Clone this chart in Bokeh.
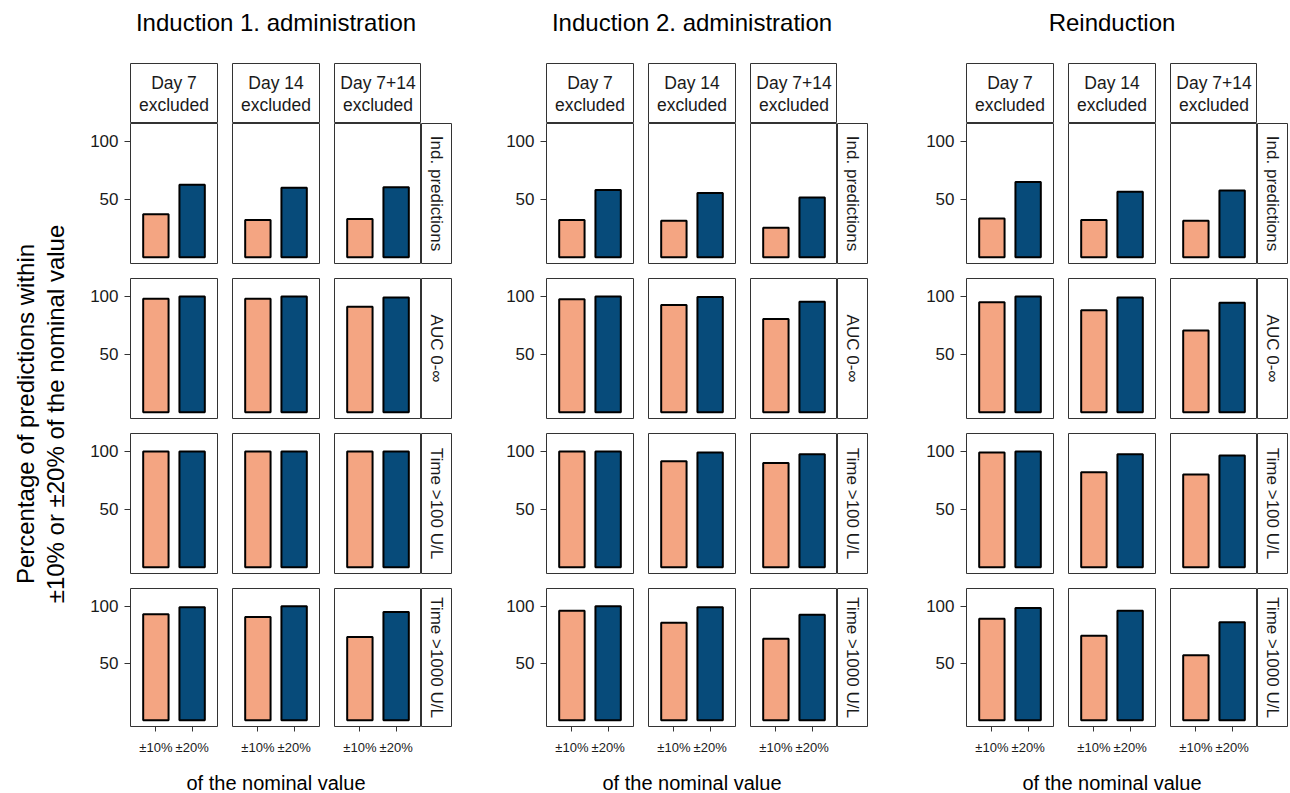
import math
from bokeh.plotting import figure
from bokeh.layouts import row, column
from bokeh.models import Range1d, FactorRange, FixedTicker, ColumnDataSource, Spacer
from bokeh.embed import file_html
from bokeh.resources import INLINE
from bokeh.core.properties import value

FONT = "Liberation Sans"

# ---------------- data ----------------
groups = ["Induction 1. administration", "Induction 2. administration", "Reinduction"]
exclusions = ["Day 7\nexcluded", "Day 14\nexcluded", "Day 7+14\nexcluded"]
metrics = ["Ind. predictions", "AUC 0-\u221e", "Time >100 U/L", "Time >1000 U/L"]
levels = ["\u00b110%", "\u00b120%"]
ylab_lines = ["Percentage of predictions within", "\u00b110% or \u00b120% of the nominal value"]
xlab = "of the nominal value"

# values[metric][exclusion]
ind1_pm10 = [[37, 32, 33], [98, 98, 91], [100, 100, 100], [93, 90.5, 73]]
ind1_pm20 = [[62.5, 60, 60.5], [100, 100, 99], [100, 100, 100], [99, 100, 95]]
ind2_pm10 = [[32, 31.5, 25.5], [97.5, 92.5, 80.5], [100, 91.5, 90], [96, 85.5, 71.5]]
ind2_pm20 = [[58, 55.5, 51.5], [100, 99.5, 95.5], [100, 99, 97.5], [100, 99, 92.5]]
re_pm10 = [[33.5, 32, 31.5], [95, 88, 70.5], [99, 82, 80], [89, 74, 57]]
re_pm20 = [[65, 56.5, 57.5], [100, 99, 94.5], [100, 97.5, 96.5], [98.5, 96, 86]]

values10 = [ind1_pm10, ind2_pm10, re_pm10]
values20 = [ind1_pm20, ind2_pm20, re_pm20]
colors = ["#F4A582", "#074B7A"]

# ---------------- layout constants ----------------
PW, PH = 87, 140
GAP = 15
LB = 46
XAX = 29
STRIP_W = 31
STRIP_H = 61
YLW = 84
TITLE_H = 62
XLAB_H = 36
SPACERS = [48, 52]
BORDER = "#333333"
TXT = "#1A1A1A"


def clean(p):
    p.grid.visible = False
    p.background_fill_color = "white"
    p.border_fill_color = "white"
    p.outline_line_color = BORDER
    p.outline_line_width = 1
    return p


def make_panel(g, r, c):
    nrow = len(metrics)
    left = LB if c == 0 else GAP - 1
    right = 0 if c == 2 else 1
    top = 0 if r == 0 else GAP - 1
    bottom = XAX if r == nrow - 1 else 1
    p = figure(width=left + PW + right, height=top + PH + bottom,
               x_range=FactorRange(factors=levels, range_padding=0.2, range_padding_units="absolute"),
               y_range=Range1d(-5.5, 115.5),
               x_axis_location="below" if r == nrow - 1 else None,
               y_axis_location="left" if c == 0 else None,
               output_backend="svg", toolbar_location=None,
               min_border_left=left, min_border_right=right,
               min_border_top=top, min_border_bottom=bottom)
    clean(p)
    src = ColumnDataSource(dict(x=levels,
                                top=[values10[g][r][c], values20[g][r][c]],
                                color=colors))
    p.vbar(x="x", top="top", bottom=0, width=0.7, fill_color="color",
           line_color="black", line_width=2, source=src)
    for ax in p.axis:
        ax.axis_line_color = None
        ax.major_tick_line_color = BORDER
        ax.major_tick_in = 0
        ax.minor_tick_line_color = None
        ax.major_label_text_font = FONT
        ax.major_label_text_color = TXT
    if c == 0:
        ya = p.yaxis[0]
        ya.ticker = FixedTicker(ticks=[50, 100])
        ya.major_tick_out = 6
        ya.major_label_standoff = 6
        ya.major_label_text_font_size = "17px"
    if r == nrow - 1:
        xa = p.xaxis[0]
        xa.major_tick_out = 5
        xa.major_label_standoff = 8
        xa.major_label_text_font_size = "13px"
    return p


def make_top_strip(c):
    left = LB if c == 0 else GAP - 1
    right = 0 if c == 2 else 1
    p = figure(width=left + PW + right, height=STRIP_H,
               x_range=Range1d(0, 1), y_range=Range1d(0, 1),
               x_axis_location=None, y_axis_location=None,
               output_backend="svg", toolbar_location=None,
               min_border_left=left, min_border_right=right,
               min_border_top=1, min_border_bottom=0)
    clean(p)
    p.text(x=[0.5], y=[0.5], text=[exclusions[c]], text_align="center",
           text_baseline="middle", text_font=value(FONT), text_font_size="17.5px",
           text_color=TXT, text_line_height=1.1)
    return p


def make_right_strip(r):
    nrow = len(metrics)
    top = 0 if r == 0 else GAP - 1
    bottom = XAX if r == nrow - 1 else 1
    p = figure(width=STRIP_W, height=top + PH + bottom,
               x_range=Range1d(0, 1), y_range=Range1d(0, 1),
               x_axis_location=None, y_axis_location=None,
               output_backend="svg", toolbar_location=None,
               min_border_left=0, min_border_right=1,
               min_border_top=top, min_border_bottom=bottom)
    clean(p)
    p.text(x=[0.5], y=[0.5], text=[metrics[r]], angle=-math.pi / 2,
           text_align="center", text_baseline="middle", text_font=value(FONT),
           text_font_size="17px", text_color=TXT)
    return p


def make_group(g):
    strips = [make_top_strip(c) for c in range(3)]
    top_row = row(*strips, Spacer(width=STRIP_W, height=STRIP_H))
    rows = [top_row]
    for r in range(len(metrics)):
        rows.append(row(*[make_panel(g, r, c) for c in range(3)], make_right_strip(r)))
    return column(*rows)


group_w = (LB + PW + 1) + (GAP - 1 + PW + 1) + (GAP - 1 + PW) + STRIP_W
group_h = STRIP_H + (PH + 1) + 2 * (GAP - 1 + PH + 1) + (GAP - 1 + PH + XAX)
total_w = YLW + 3 * group_w + sum(SPACERS)

# panel-area centres (content coordinates)
g_starts = [YLW, YLW + group_w + SPACERS[0], YLW + 2 * group_w + SPACERS[0] + SPACERS[1]]
centers = [s + LB + (3 * PW + 2 * GAP) / 2 for s in g_starts]

# title figure
tf = figure(width=total_w, height=TITLE_H, x_range=Range1d(0, total_w), y_range=Range1d(0, TITLE_H),
            x_axis_location=None, y_axis_location=None, output_backend="svg",
            toolbar_location=None, min_border=0)
clean(tf)
tf.outline_line_color = None
tf.text(x=centers, y=[TITLE_H - 22] * 3, text=groups, text_align="center", text_baseline="middle",
        text_font=value(FONT), text_font_size="24px", text_color="black")

# y-label figure
yf = figure(width=YLW, height=group_h, x_range=Range1d(0, YLW), y_range=Range1d(0, group_h),
            x_axis_location=None, y_axis_location=None, output_backend="svg",
            toolbar_location=None, min_border=0)
clean(yf)
yf.outline_line_color = None
panel_area_top = STRIP_H
panel_area_bot = group_h - XAX
ymid = group_h - (panel_area_top + panel_area_bot) / 2 + 12
yf.text(x=[25, 55], y=[ymid, ymid], text=ylab_lines, angle=math.pi / 2, text_align="center",
        text_baseline="middle", text_font=value(FONT), text_font_size="24px", text_color="black")

# x-label figure
xf = figure(width=total_w, height=XLAB_H, x_range=Range1d(0, total_w), y_range=Range1d(0, XLAB_H),
            x_axis_location=None, y_axis_location=None, output_backend="svg",
            toolbar_location=None, min_border=0)
clean(xf)
xf.outline_line_color = None
xf.text(x=centers, y=[XLAB_H - 25] * 3, text=[xlab] * 3, text_align="center", text_baseline="middle",
        text_font=value(FONT), text_font_size="20px", text_color="black")

body = row(yf, make_group(0), Spacer(width=SPACERS[0], height=group_h), make_group(1),
           Spacer(width=SPACERS[1], height=group_h), make_group(2))
layout = column(tf, body, xf)

open("out.html", "w").write(file_html(layout, INLINE))
